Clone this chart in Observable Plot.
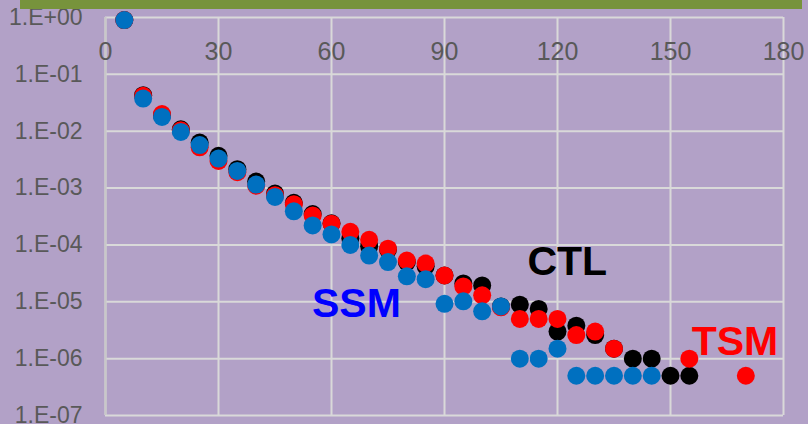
<!DOCTYPE html>
<html>
<head>
<meta charset="utf-8">
<script src="https://cdn.jsdelivr.net/npm/d3@7"></script>
<script src="https://cdn.jsdelivr.net/npm/@observablehq/plot@0.6"></script>
<style>
  html, body { margin: 0; padding: 0; background: #b2a1c7; }
  #wrap { position: relative; width: 808px; height: 424px; overflow: hidden; background: #b2a1c7; }
  #bar { position: absolute; left: 20px; top: 0; width: 782px; height: 9px; background: #77933c; }
  #chart { position: absolute; left: 0; top: 0; }
</style>
</head>
<body>
<div id="wrap"><div id="chart"></div><div id="bar"></div></div>
<script>
// ---- data ----
const xValues = [5,10,15,20,25,30,35,40,45,50,55,60,65,70,75,80,85,90,95,100,105,110,115,120,125,130,135,140,145,150,155,160,165,170];
const ctl = [0.9,0.043,0.019,0.0108,0.0063,0.0037,0.00215,0.0013,0.0008,0.00055,0.00035,0.00024,0.00013,0.000095,0.000083,0.00005,0.000042,0.000029,0.000021,0.0000194,0.0000083,0.0000089,0.0000075,0.000003,0.0000038,0.0000026,0.0000015,0.000001,0.000001,5e-7,5e-7,null,null,null];
const tsm = [0.9,0.042,0.02,0.0104,0.0052,0.003,0.0019,0.0011,0.00075,0.00052,0.00033,0.000236,0.00017,0.000123,0.000086,0.000053,0.000047,0.000029,0.0000186,0.000013,0.000008,0.000005,0.000005,0.000005,0.0000026,0.000003,0.0000015,null,null,null,0.000001,null,null,5e-7];
const ssm = [0.9,0.0375,0.0178,0.0097,0.0057,0.0033,0.002,0.00115,0.0007,0.00039,0.00022,0.000153,0.0001,0.000065,0.00005,0.000028,0.000025,0.0000092,0.0000102,0.0000068,0.0000083,0.000001,0.000001,0.0000015,5e-7,5e-7,5e-7,5e-7,5e-7,null,null,null,null,null];

const xTicks = [0,30,60,90,120,150,180];
const yTicks = [1e-7,1e-6,1e-5,1e-4,1e-3,1e-2,1e-1,1];
const yTickLabels = ["1.E-07","1.E-06","1.E-05","1.E-04","1.E-03","1.E-02","1.E-01","1.E+00"];

const seriesNames = ["CTL","TSM","SSM"];
const seriesColors = ["#000000","#ff0000","#0070c0"];
const labelColors = ["#000000","#ff0000","#0000ff"];
// label anchor positions in data units (x, y)
const labelX = [122.6, 167.1, 66.6];
const labelY = [5.1e-5, 2.0e-6, 9.3e-6];

// ---- build table ----
const seriesValues = [ctl, tsm, ssm];
const points = [];
seriesNames.forEach((name, si) => {
  xValues.forEach((x, i) => {
    const v = seriesValues[si][i];
    if (v != null) points.push({series: name, x, y: v});
  });
});
const labels = seriesNames.map((name, i) => ({name, x: labelX[i], y: labelY[i], color: labelColors[i]}));

const fontAxis = "'Liberation Sans', Arial, sans-serif";

const chart = Plot.plot({
  width: 808,
  height: 424,
  marginLeft: 105,
  marginRight: 25,
  marginTop: 17,
  marginBottom: 9,
  style: {background: "transparent", fontFamily: fontAxis, color: "#595959", overflow: "visible"},
  x: {domain: [0, 180]},
  y: {type: "log", domain: [1e-7, 1]},
  color: {domain: seriesNames, range: seriesColors},
  marks: [
    Plot.gridX(xTicks, {stroke: "#d9d9d9", strokeOpacity: 1, strokeWidth: 2}),
    Plot.gridY(yTicks, {stroke: "#d9d9d9", strokeOpacity: 1, strokeWidth: 2}),
    Plot.ruleX([0], {stroke: "#c8c8c8", strokeWidth: 2}),
    Plot.axisY({
      ticks: yTicks,
      tickSize: 0,
      tickPadding: 23,
      tickFormat: (d) => yTickLabels[yTicks.indexOf(d)],
      fontSize: 23,
      fill: "#595959",
      label: null
    }),
    Plot.axisX({
      anchor: "top",
      ticks: xTicks,
      tickSize: 0,
      tickPadding: 0,
      dy: 42,
      fontSize: 25,
      fill: "#595959",
      label: null
    }),
    Plot.dot(points, {x: "x", y: "y", fill: "series", r: 9, stroke: null}),
    Plot.text(labels, {
      x: "x", y: "y", text: "name", fill: "color",
      fontSize: 41, fontWeight: "bold",
      fontFamily: "'Liberation Sans', Arial, sans-serif",
      textAnchor: "middle", lineAnchor: "middle"
    })
  ]
});
document.getElementById("chart").appendChild(chart);
</script>
</body>
</html>
